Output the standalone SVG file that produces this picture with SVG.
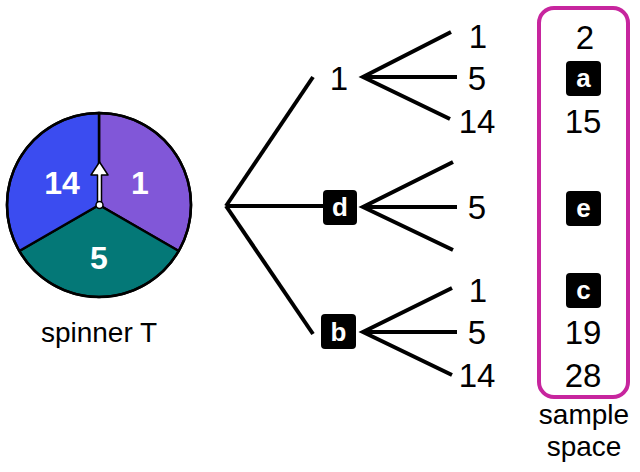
<svg xmlns="http://www.w3.org/2000/svg" width="640" height="472" viewBox="0 0 640 472">
<style>
.t{font-family:"Liberation Sans",Arial,sans-serif;font-size:33px;fill:#000;text-anchor:middle}
.w{font-family:"Liberation Sans",Arial,sans-serif;font-size:32px;font-weight:bold;fill:#fff;text-anchor:middle}
.lbl{font-family:"Liberation Sans",Arial,sans-serif;font-size:28px;fill:#000;text-anchor:middle}
.bx{fill:#000}
.bl{font-family:"Liberation Sans",Arial,sans-serif;font-size:26px;font-weight:bold;fill:#fff;text-anchor:middle}
.ln{stroke:#000;stroke-width:4;stroke-linecap:butt;fill:none}
.sec{stroke:#000;stroke-width:2.5;stroke-linejoin:round}
</style>
<rect width="640" height="472" fill="#fff"/>
<g id="spinner">
<path class="sec" fill="#8157d8" d="M99,205 L99,113 A92,92 0 0,1 178.7,251 Z"/>
<path class="sec" fill="#047877" d="M99,205 L178.7,251 A92,92 0 0,1 19.3,251 Z"/>
<path class="sec" fill="#3b4cf0" d="M99,205 L19.3,251 A92,92 0 0,1 99,113 Z"/>
<circle cx="99" cy="205" r="92" fill="none" stroke="#000" stroke-width="2.5"/>
<text class="w" x="62" y="194">14</text>
<text class="w" x="140" y="194">1</text>
<text class="w" x="99" y="269">5</text>
<path d="M97.5,205 L97.5,175 L91,175 L99.5,162 L108,175 L101.5,175 L101.5,205 Z" fill="#fff" stroke="#000" stroke-width="1.5" stroke-linejoin="round"/>
<circle cx="99.5" cy="205" r="3.5" fill="#fff" stroke="#000" stroke-width="1.5"/>
<text class="lbl" x="99" y="342">spinner T</text>
</g>
<g id="connectors">
<line class="ln" x1="226" y1="206" x2="313" y2="77"/>
<line class="ln" x1="226" y1="206" x2="323" y2="206"/>
<line class="ln" x1="226" y1="206" x2="313" y2="334"/>
<path class="ln" d="M451,32 L363,77 L450,119 M363,77 L457,77"/>
<path class="ln" d="M453,162 L363,207 L453,250 M363,207 L457,207"/>
<path class="ln" d="M452,288 L363,332 L452,375 M363,332 L457,332"/>
</g>
<g id="n1"><text class="t" x="339" y="90">1</text></g>
<g id="nd"><rect class="bx" x="323" y="190" width="34" height="35" rx="4"/><text class="bl" x="340" y="216">d</text></g>
<g id="nb"><rect class="bx" x="321" y="314" width="35" height="35" rx="4"/><text class="bl" x="338.5" y="341">b</text></g>
<g id="l11"><text class="t" x="478" y="48">1</text></g>
<g id="l15"><text class="t" x="477" y="90">5</text></g>
<g id="l114"><text class="t" x="477" y="133">14</text></g>
<g id="ld5"><text class="t" x="477" y="219">5</text></g>
<g id="lb1"><text class="t" x="478" y="302">1</text></g>
<g id="lb5"><text class="t" x="477" y="344">5</text></g>
<g id="lb14"><text class="t" x="477" y="387">14</text></g>
<g id="sample">
<rect x="539" y="8" width="89" height="389" rx="15" fill="none" stroke="#c7259e" stroke-width="4"/>
<text class="t" x="585" y="49">2</text>
<rect class="bx" x="566" y="61" width="35" height="35" rx="4"/><text class="bl" x="583.5" y="87">a</text>
<text class="t" x="583" y="133">15</text>
<rect class="bx" x="566" y="191" width="35" height="35" rx="4"/><text class="bl" x="583.5" y="217">e</text>
<rect class="bx" x="566" y="273" width="35" height="35" rx="4"/><text class="bl" x="583.5" y="299">c</text>
<text class="t" x="583" y="344">19</text>
<text class="t" x="583" y="387">28</text>
<text class="lbl" x="584" y="424">sample</text>
<text class="lbl" x="584" y="456">space</text>
</g>
</svg>
